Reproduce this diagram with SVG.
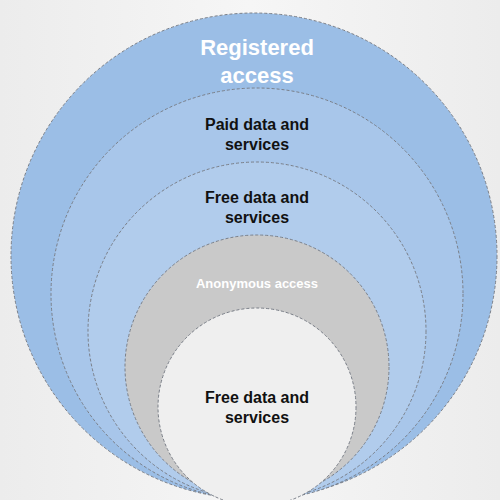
<svg xmlns="http://www.w3.org/2000/svg" width="500" height="500" viewBox="0 0 500 500">
  <style>
    .ring { stroke: #7a7f88; stroke-width: 1; stroke-dasharray: 3 2; }
    .lbl { font-family: "Liberation Sans", Arial, sans-serif; font-weight: bold; text-anchor: middle; }
    .dark { fill: #111111; font-size: 16px; }
    .light { fill: #ffffff; }
  </style>
  <defs>
    <linearGradient id="bg" x1="0" y1="0" x2="1" y2="0">
      <stop offset="0" stop-color="#ececec"/>
      <stop offset="0.5" stop-color="#f6f6f6"/>
      <stop offset="1" stop-color="#ececec"/>
    </linearGradient>
  </defs>
  <rect width="500" height="500" fill="url(#bg)"/>
  <g id="registered">
    <circle class="ring" cx="254" cy="256" r="243" fill="#9bbee6"/>
    <text class="lbl light" x="257" y="55" font-size="22">Registered</text>
    <text class="lbl light" x="257" y="83" font-size="22">access</text>
  </g>
  <g id="paid">
    <circle class="ring" cx="257" cy="294" r="206" fill="#a8c6ea"/>
    <text class="lbl dark" x="257" y="130">Paid data and</text>
    <text class="lbl dark" x="257" y="150">services</text>
  </g>
  <g id="free-registered">
    <circle class="ring" cx="257" cy="331" r="169" fill="#b1ccec"/>
    <text class="lbl dark" x="257" y="203">Free data and</text>
    <text class="lbl dark" x="257" y="223">services</text>
  </g>
  <g id="anonymous">
    <circle class="ring" cx="257" cy="367" r="132" fill="#c9c9c9"/>
    <text class="lbl light" x="257" y="288" font-size="13">Anonymous access</text>
  </g>
  <g id="free-anonymous">
    <circle class="ring" cx="257" cy="407" r="99" fill="#efefef"/>
    <text class="lbl dark" x="257" y="403">Free data and</text>
    <text class="lbl dark" x="257" y="423">services</text>
  </g>
  <g id="connectors"/>
</svg>
